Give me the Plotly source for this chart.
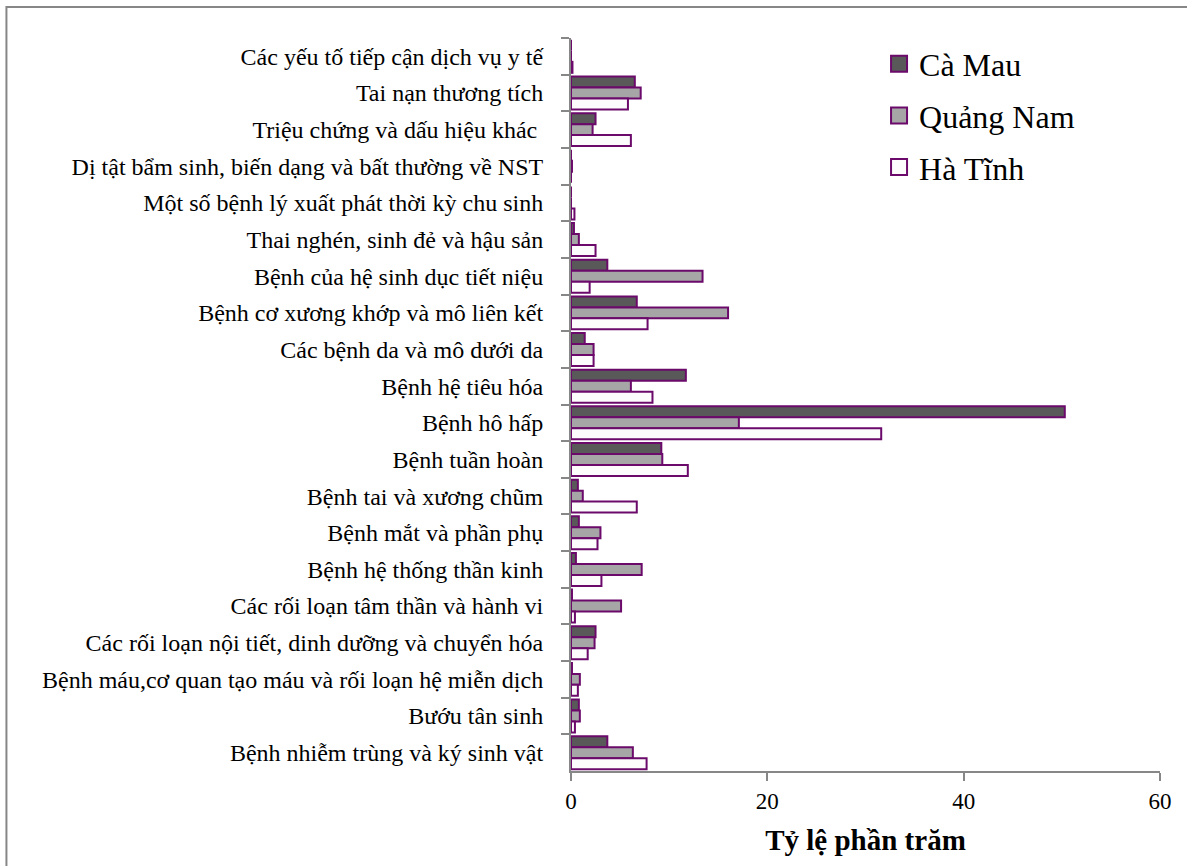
import plotly.graph_objects as go

# Disease groups, listed top to bottom
categories = [
    "Các yếu tố tiếp cận dịch vụ y tế",
    "Tai nạn thương tích",
    "Triệu chứng và dấu hiệu khác ",
    "Dị tật bẩm sinh, biến dạng và bất thường về NST",
    "Một số bệnh lý xuất phát thời kỳ chu sinh",
    "Thai nghén, sinh đẻ và hậu sản",
    "Bệnh của hệ sinh dục tiết niệu",
    "Bệnh cơ xương khớp và mô liên kết",
    "Các bệnh da và mô dưới da",
    "Bệnh hệ tiêu hóa",
    "Bệnh hô hấp",
    "Bệnh tuần hoàn",
    "Bệnh tai và xương chũm",
    "Bệnh mắt và phần phụ",
    "Bệnh hệ thống thần kinh",
    "Các rối loạn tâm thần và hành vi",
    "Các rối loạn nội tiết, dinh dưỡng và chuyển hóa",
    "Bệnh máu,cơ quan tạo máu và rối loạn hệ miễn dịch",
    "Bướu tân sinh",
    "Bệnh nhiễm trùng và ký sinh vật",
]

ca_mau = [0.0, 6.5, 2.5, 0.0, 0.0, 0.3, 3.7, 6.7, 1.4, 11.7, 50.3, 9.2,
          0.7, 0.8, 0.5, 0.1, 2.5, 0.1, 0.8, 3.7]
quang_nam = [0.0, 7.1, 2.2, 0.1, 0.0, 0.8, 13.4, 16.0, 2.3, 6.1, 17.1, 9.3,
             1.2, 3.0, 7.2, 5.1, 2.4, 0.9, 0.9, 6.3]
ha_tinh = [0.15, 5.8, 6.1, 0.0, 0.35, 2.5, 1.9, 7.8, 2.3, 8.3, 31.6, 11.9,
           6.7, 2.7, 3.1, 0.4, 1.7, 0.7, 0.4, 7.7]

series = [
    ("Cà Mau", ca_mau, "#595959"),
    ("Quảng Nam", quang_nam, "#A6A6A6"),
    ("Hà Tĩnh", ha_tinh, "#FCFCFC"),
]

OUTLINE = "#6B0A6B"
AXIS = "#878787"
FONT = "Liberation Serif"

fig = go.Figure()
for i, (name, vals, color) in enumerate(series):
    fig.add_trace(go.Bar(
        y=categories, x=vals, orientation="h", name=name,
        marker=dict(color=color, line=dict(color=OUTLINE, width=2)),
        showlegend=False,
    ))
for i, (name, vals, color) in enumerate(series):
    # legend-only entries with larger square swatches
    fig.add_trace(go.Scatter(
        x=[None], y=[None], mode="markers", name=name,
        legendgroup=f"g{i}",
        marker=dict(symbol="square", size=16, color=color,
                    line=dict(color=OUTLINE, width=2)),
    ))

fig.update_layout(
    width=1187, height=866,
    margin=dict(l=570.5, r=27, t=38, b=95),
    paper_bgcolor="white", plot_bgcolor="white",
    barmode="group", bargap=0.1, bargroupgap=0,
    font=dict(family=FONT, size=24, color="black"),
    legend=dict(
        x=0.523, y=1.002, xanchor="left", yanchor="top",
        font=dict(family=FONT, size=32, color="black"),
        bgcolor="rgba(0,0,0,0)", traceorder="grouped", tracegroupgap=7,
        itemsizing="trace",
    ),
    xaxis=dict(
        range=[0, 60], tickvals=[0, 20, 40, 60],
        showgrid=False, zeroline=False,
        showline=True, linecolor=AXIS, linewidth=2,
        ticks="outside", ticklen=8, tickcolor=AXIS, tickwidth=2,
        tickfont=dict(family=FONT, size=23),
        title=dict(text="<b>Tỷ lệ phần trăm</b>", font=dict(family=FONT, size=29),
                   standoff=17),
    ),
    yaxis=dict(
        categoryorder="array", categoryarray=categories,
        range=[19.5, -0.5],
        showgrid=False, zeroline=False,
        showline=True, linecolor=AXIS, linewidth=2,
        ticks="outside", ticklen=8, tickcolor=AXIS, tickwidth=2,
        tickson="boundaries", ticklabelstandoff=21,
        tickfont=dict(family=FONT, size=24),
    ),
    shapes=[
        # outer chart frame (top and left edges visible)
        dict(type="rect", xref="paper", yref="paper",
             x0=-0.9585, x1=1.08, y0=-0.16, y1=1.0423,
             line=dict(color=AXIS, width=2), fillcolor="rgba(0,0,0,0)",
             layer="below"),
    ],
)

fig.write_html("out.html")
